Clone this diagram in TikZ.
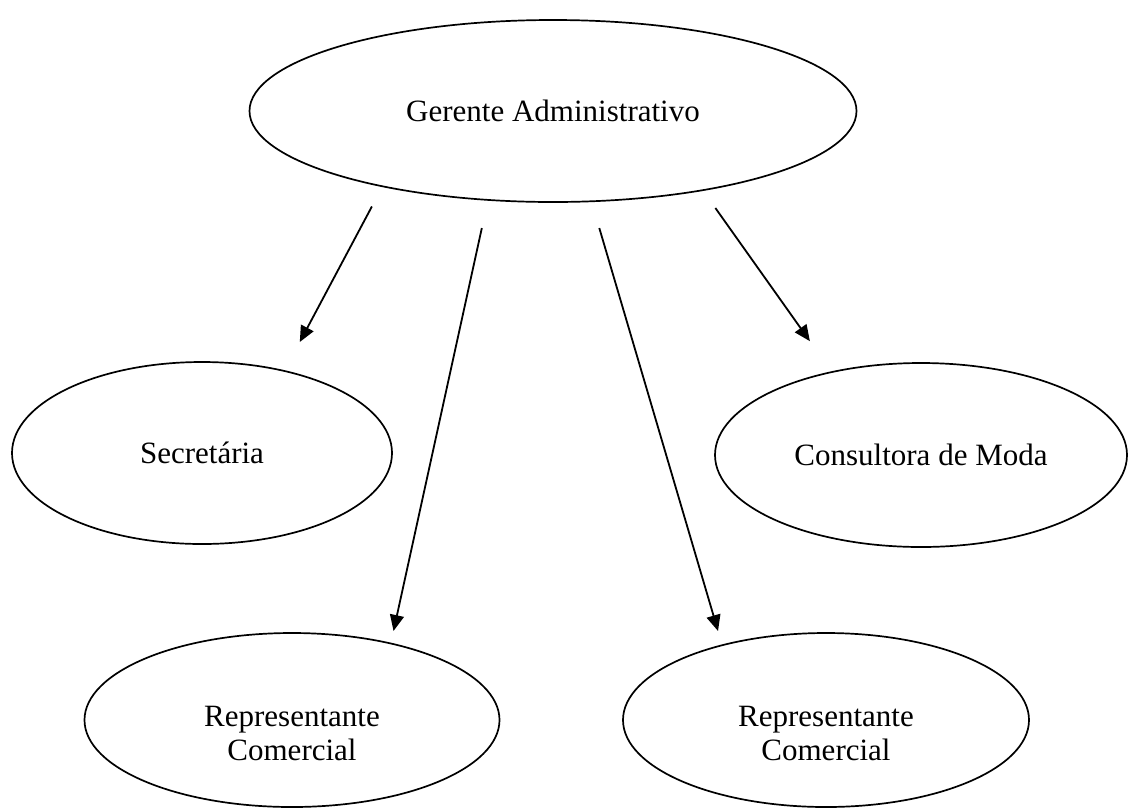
\documentclass[tikz,border=0pt]{standalone}
\usepackage{fontspec}
\setmainfont{Liberation Serif}
\usetikzlibrary{shapes.geometric, arrows.meta}

\begin{document}
\begin{tikzpicture}[x=1pt, y=-1pt,
  oval/.style={ellipse, draw=black, line width=1.7pt, inner sep=0pt, align=center, font=\fontsize{31}{34}\selectfont},
  arr/.style={-{Triangle[length=16pt, width=14pt]}, line width=1.8pt}
]
\useasboundingbox (0,0) rectangle (1129,807);
\node[oval, minimum width=607pt, minimum height=182pt] (ger) at (553,111) {Gerente Administrativo};
\node[oval, minimum width=380pt, minimum height=182pt] (sec) at (202,453) {Secretária};
\node[oval, minimum width=412pt, minimum height=184pt] (cons) at (921,455) {Consultora de Moda};
\node[oval, minimum width=415pt, minimum height=174pt, text height=87pt, text depth=7pt] (rep1) at (292,720) {Representante\\Comercial};
\node[oval, minimum width=406pt, minimum height=174pt, text height=87pt, text depth=7pt] (rep2) at (826,720) {Representante\\Comercial};
\draw[arr, shorten <=22pt, shorten >=32pt] (ger.204.5) -- (sec.45.7);
\draw[arr, shorten <=28pt, shorten >=12pt] (ger.234.3) -- (rep1.38.2);
\draw[arr, shorten <=27pt, shorten >=14pt] (ger.293.1) -- (rep2.144.7);
\draw[arr, shorten <=21pt, shorten >=37pt] (ger.332.4) -- (cons.137.4);
\end{tikzpicture}
\end{document}
